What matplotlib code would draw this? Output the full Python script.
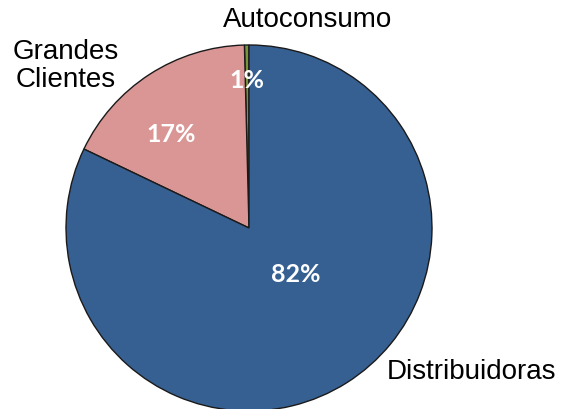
import matplotlib
matplotlib.use("Agg")
import matplotlib.pyplot as plt

categories = ["Autoconsumo", "Grandes Clientes", "Distribuidoras"]
values = [0.4, 17.5, 82.1]
pct_labels = ["1%", "17%", "82%"]
colors = ["#77933C", "#D99694", "#376092"]

W, H = 562, 410
fig = plt.figure(figsize=(W / 100, H / 100), dpi=100)
ax = fig.add_axes([0, 0, 1, 1])

cx, cy, r = 249, H - 229, 183
wedges, _ = ax.pie(values, colors=colors, startangle=90, counterclock=True,
                   center=(cx, cy), radius=r, frame=True,
                   wedgeprops=dict(edgecolor="#1a1a1a", linewidth=1.0))
ax.set_xlim(0, W)
ax.set_ylim(0, H)
ax.axis("off")

lab_font = ["Liberation Sans", "DejaVu Sans"]
pct_font = ["Lato", "DejaVu Sans"]

# percentage labels (pixel positions measured from top-left)
pct_pos = [(247, 80), (171, 134), (296, 274)]
for (px, py), t in zip(pct_pos, pct_labels):
    ax.text(px, H - py, t, ha="center", va="center", color="black" if False else "white",
            fontsize=18, fontweight="bold", family=pct_font)

# category labels
cat_pos = [(308, 20), (66, 66), (471, 372)]
cat_text = ["Autoconsumo", "Grandes\nClientes", "Distribuidoras"]
for (px, py), t in zip(cat_pos, cat_text):
    ax.text(px, H - py, t, ha="center", va="center", color="black",
            fontsize=20, family=lab_font, linespacing=1.1)

fig.savefig("out.png", dpi=100)
